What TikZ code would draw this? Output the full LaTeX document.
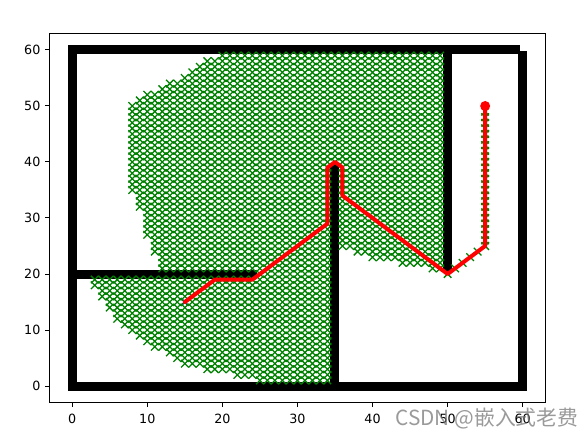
\documentclass[tikz,border=0pt]{standalone}
\usepackage{fontspec}
\setmainfont{DejaVu Sans}
\newfontfamily\cjkfont{Noto Sans CJK SC}
\definecolor{mplgreen}{HTML}{008000}
\definecolor{mplred}{HTML}{FF0000}
\definecolor{mplblue}{HTML}{0000FF}
\definecolor{wmgray}{RGB}{120,120,120}
\tikzset{
  wallfill/.style={fill=black},
  explored/.style={draw=mplgreen, line width=0.64pt},
  pathline/.style={draw=mplred, line width=2pt, line join=round, line cap=round},
  frameline/.style={draw=black, line width=0.5pt},
  tickline/.style={draw=black, line width=0.5pt},
  ticklabel/.style={inner sep=0pt, font=\fontsize{6.35pt}{7pt}\selectfont},
  watermark/.style={inner sep=0pt, text=wmgray, opacity=0.75, font=\fontsize{10.4pt}{12pt}\cjkfont}
}
\newcommand\WallRect[4]{\fill[wallfill] ([shift={(-2.25pt,-2.25pt)}]#1,#2) rectangle ([shift={(2.25pt,2.25pt)}]#3,#4);}
\begin{document}
\begin{tikzpicture}[x=0.5pt,y=0.5pt]
\useasboundingbox (0,0) rectangle (587,439);
\begin{scope}[shift={(72.2,53)}, x=3.754pt, y=2.8pt]
  % obstacles
  \WallRect{0}{0}{60}{0}
  \WallRect{0}{0}{0}{60}
  \WallRect{0}{60}{59}{60}
  \WallRect{60}{0}{60}{59}
  \WallRect{0}{20}{24}{20}
  \WallRect{35}{0}{35}{39}
  \WallRect{50}{21}{50}{60}
  % start marker
  \coordinate (start) at (15,15);
  \draw[draw=mplblue, line width=0.8pt] (start) ++(-1.9pt,-1.9pt) -- ++(3.8pt,3.8pt) ++(0,-3.8pt) -- ++(-3.8pt,3.8pt);
  % explored nodes
  \foreach \ya/\yb/\aa/\bb in {59/59/20/49, 58/58/18/49, 57/57/17/49, 56/56/16/49,
      55/55/15/49, 54/54/13/49, 53/53/12/49, 52/52/10/49, 51/51/9/49, 40/50/8/49,
      35/39/8/34, 25/39/36/49, 32/34/9/34, 27/31/10/34, 24/26/11/34, 21/23/12/34,
      24/24/38/49, 23/23/40/49, 22/22/44/49, 21/21/48/49, 20/20/25/34,
      18/19/3/34, 16/17/4/34, 14/15/5/34, 12/13/6/34, 11/11/7/34, 10/10/8/34,
      9/9/9/34, 8/8/10/34, 7/7/11/34, 6/6/13/34, 5/5/14/34, 4/4/15/34,
      3/3/18/34, 2/2/22/34, 1/1/25/34,
      20/20/50/50, 21/21/51/51, 22/22/52/52, 23/23/53/53, 24/24/54/54, 25/49/55/55}{
    \foreach \yy in {\ya,...,\yb}{
      \foreach \xx in {\aa,...,\bb}{
        \draw[explored] (\xx,\yy) ++(-1.9pt,-1.9pt) -- ++(3.8pt,3.8pt) ++(0,-3.8pt) -- ++(-3.8pt,3.8pt);
      }
    }
  }
  % final path
  \coordinate (p1) at (19,19);
  \coordinate (p2) at (24,19);
  \coordinate (p3) at (34,29);
  \coordinate (p4) at (34,39);
  \coordinate (p5) at (35,40);
  \coordinate (p6) at (36,39);
  \coordinate (p7) at (36,34);
  \coordinate (p8) at (50,20);
  \coordinate (p9) at (55,25);
  \coordinate (goal) at (55,50);
  \draw[pathline] (start) -- (p1) -- (p2) -- (p3) -- (p4) -- (p5) -- (p6) -- (p7) -- (p8) -- (p9) -- (goal);
  \fill[mplred] (goal) circle (2.5pt);
  % axes frame
  \draw[frameline] (-3,-3) rectangle (63,63);
  \foreach \t in {0,10,...,60}{
    \draw[tickline] (\t,-3) -- ++(0,-2.2pt);
    \node[ticklabel, anchor=north] (xt\t) at ([yshift=-5.6pt]\t,-3) {\t};
    \draw[tickline] (-3,\t) -- ++(-2.2pt,0);
    \node[ticklabel, anchor=east] (yt\t) at ([xshift=-4.45pt]-3,\t) {\t};
  }
\end{scope}
\node[watermark, anchor=west] (wm) at (395,20) {CSDN @嵌入式老费};
\end{tikzpicture}
\end{document}
